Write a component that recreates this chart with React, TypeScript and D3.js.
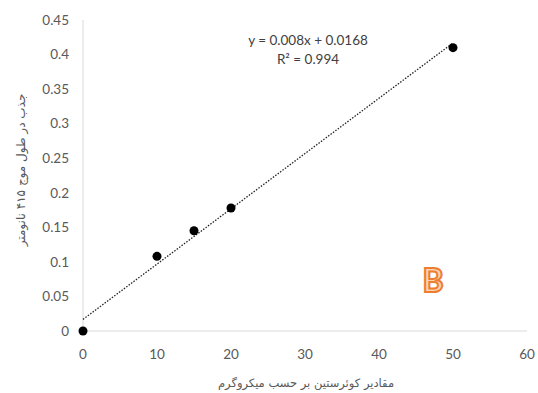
import React from 'react';
import * as d3 from 'd3';

// concentrations (µg) and absorbance
const xValues = [0, 10, 15, 20, 50];
const yValues = [0, 0.108, 0.145, 0.178, 0.41];
const xTicks = [0, 10, 20, 30, 40, 50, 60];
const yTicks = [0, 0.05, 0.1, 0.15, 0.2, 0.25, 0.3, 0.35, 0.4, 0.45];
const slope = 0.008;
const intercept = 0.0168;
const eqLabel = 'y = 0.008x + 0.0168';
const r2Label = 'R² = 0.994';
const xTitle = 'مقادیر کوئرستین بر حسب میکروگرم';
const yTitle = 'جذب در طول موج ۴۱۵ نانومتر';

export default function App() {
  const width = 538;
  const height = 393;
  const x = d3.scaleLinear().domain([0, 60]).range([83, 527]);
  const y = d3.scaleLinear().domain([0, 0.45]).range([331, 20]);

  const trend = d3.line<number>()
    .x(d => x(d))
    .y(d => y(slope * d + intercept));

  const font = 'Lato, "Open Sans", sans-serif';
  const grey = '#595959';

  return (
    <svg width={width} height={height}
      style={{ position: 'absolute', left: 0, top: 0, background: '#fff' }}>
      {/* axes */}
      <line x1={x(0)} x2={x(0)} y1={y(0.45)} y2={y(0)} stroke="#d9d9d9" />
      <line x1={x(0)} x2={x(60)} y1={y(0)} y2={y(0)} stroke="#d9d9d9" />

      {yTicks.map(t => (
        <text key={'y' + t} x={x(0) - 14} y={y(t)} dy="0.35em" textAnchor="end"
          fontFamily={font} fontSize={13.5} fill={grey}>{String(t)}</text>
      ))}
      {xTicks.map(t => (
        <text key={'x' + t} x={x(t)} y={y(0) + 23} dy="0.35em" textAnchor="middle"
          fontFamily={font} fontSize={13.5} fill={grey}>{t}</text>
      ))}

      {/* trendline */}
      <path d={trend([0, 50]) || ''} fill="none" stroke="#222" strokeWidth={1.3}
        strokeDasharray="1.5 1.5" />

      {xValues.map((v, i) => (
        <circle key={i} cx={x(v)} cy={y(yValues[i])} r={4.5} fill="#000" />
      ))}

      <text x={308} y={40} dy="0.35em" textAnchor="middle" fontFamily={font}
        fontSize={13.5} fill="#404040">{eqLabel}</text>
      <text x={308} y={59} dy="0.35em" textAnchor="middle" fontFamily={font}
        fontSize={13.5} fill="#404040">{r2Label}</text>

      <text x={306} y={383} dy="0.35em" textAnchor="middle" fontFamily="'DejaVu Sans', sans-serif"
        fontSize={11.5} fill={grey} direction="rtl">{xTitle}</text>
      <text transform={`translate(21,${170}) rotate(-90)`} dy="0.35em" textAnchor="middle"
        fontFamily="'DejaVu Sans', sans-serif" fontSize={12} fill={grey} direction="rtl">{yTitle}</text>

      <text x={433} y={281} dy="0.35em" textAnchor="middle" fontFamily={font} fontWeight="bold"
        fontSize={32} fill="#fbd3b3" stroke="#ed7d31" strokeWidth={2}>B</text>
    </svg>
  );
}
